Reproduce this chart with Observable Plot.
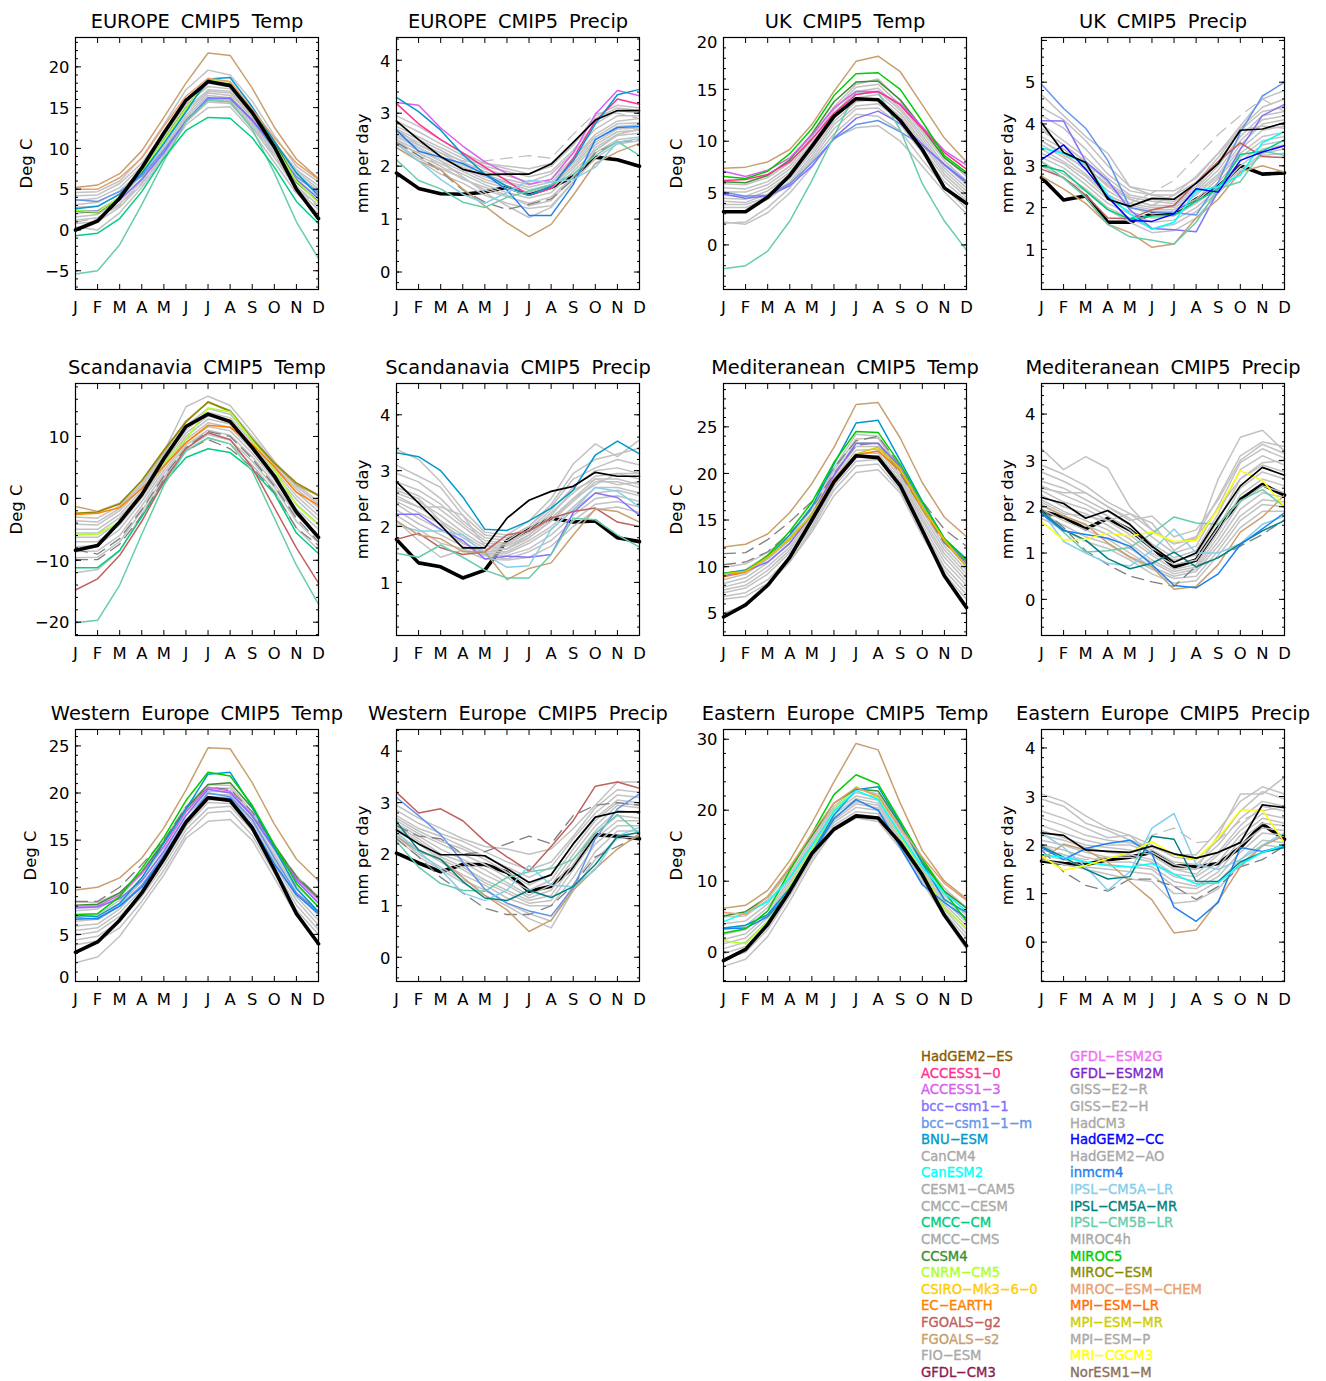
<!DOCTYPE html>
<html><head><meta charset="utf-8">
<style>
body{margin:0;background:#fff}
#page{position:relative;width:1326px;height:1381px;overflow:hidden}
#page svg{position:absolute;overflow:visible;background:none}
.leg{position:absolute;font:13.2px "DejaVu Sans",sans-serif;-webkit-text-stroke:.35px;line-height:16px;white-space:nowrap}
.leg span{display:inline-block;width:10.5px;text-align:center;transform:scaleX(2.2)}
</style>
<script src="https://cdn.jsdelivr.net/npm/d3@7"></script>
<script src="https://cdn.jsdelivr.net/npm/@observablehq/plot@0.6"></script>
</head><body><div id="page"></div>
<script>
const monthLabels=["J","F","M","A","M","J","J","A","S","O","N","D"];
const legendLeft=["HadGEM2-ES","ACCESS1-0","ACCESS1-3","bcc-csm1-1","bcc-csm1-1-m","BNU-ESM","CanCM4","CanESM2","CESM1-CAM5","CMCC-CESM","CMCC-CM","CMCC-CMS","CCSM4","CNRM-CM5","CSIRO-Mk3-6-0","EC-EARTH","FGOALS-g2","FGOALS-s2","FIO-ESM","GFDL-CM3"];
const legendLeftColors=["#8b5a00","#ff3090","#d860f0","#8470ff","#6495ed","#0099cc","#a9a9a9","#00ffff","#a9a9a9","#a9a9a9","#00cd80","#a9a9a9","#3a8f30","#adff2f","#ffcc00","#ff7f00","#c06060","#c8a070","#a9a9a9","#8b1a50"];
const legendRight=["GFDL-ESM2G","GFDL-ESM2M","GISS-E2-R","GISS-E2-H","HadCM3","HadGEM2-CC","HadGEM2-AO","inmcm4","IPSL-CM5A-LR","IPSL-CM5A-MR","IPSL-CM5B-LR","MIROC4h","MIROC5","MIROC-ESM","MIROC-ESM-CHEM","MPI-ESM-LR","MPI-ESM-MR","MPI-ESM-P","MRI-CGCM3","NorESM1-M"];
const legendRightColors=["#ee70ee","#7d26cd","#a9a9a9","#a9a9a9","#a9a9a9","#0000ff","#a9a9a9","#1e80f0","#87ceeb","#008080","#66cdaa","#a9a9a9","#00cd00","#8b8b00","#e8a070","#ff7000","#cdcd00","#a9a9a9","#ffff00","#8b6f5a"];

const europeTempObs=[0,1.1,3.9,7.6,11.9,15.9,18.2,17.7,14.4,10.2,5,1.4];
const europeTempModels=[["bcc-csm1-1-m",[3.7,3.5,4.7,6.6,9.8,13.3,16.1,16.2,13.4,10,6.5,4.6]],["bcc-csm1-1",[2.4,2.3,3.7,6.2,9.5,13.4,16.2,16.1,13.5,10.2,6.2,3.8]],["CCSM4",[2.3,2.1,3.9,7.1,11.1,15,18.1,17.9,14.6,10.9,5.9,3.4]],["CNRM-CM5",[2.4,2.2,4,7.2,11,14.9,18.4,18.1,14.5,10.4,6,3.3]],["BNU-ESM",[2.6,2.9,4.4,6.9,10.6,14.5,18.5,18.7,15.1,10.9,7,4.2]],["IPSL-CM5B-LR",[-5.4,-5,-1.8,3.1,8.4,13.3,15.9,15.7,12.4,7,1,-3.5]],["CMCC-CM",[-.7,-.4,1.4,4.7,8.8,12.2,13.8,13.7,11.3,7.7,3.5,.8]],["MIROC-ESM-CHEM",[5,5,6.4,8.8,12.7,16.4,18.6,18.2,14.8,11.3,8.2,6.2]],["FGOALS-s2",[5.2,5.5,6.9,9.7,13.8,18,21.7,21.4,17.4,12.6,8.7,6.3]]];
const europeTempGrey=[[4.6,4.7,6,8.9,12.9,17.2,19.6,19,15.8,11.6,7.8,5.9],[4.2,4.3,5.7,8.2,11.9,15.9,18,17.6,14.4,10.8,7.4,5.4],[3.6,3.9,5.2,7.8,11.5,15.4,17.6,17.3,14.2,10.6,7.2,5],[3.1,3.4,4.8,7.3,11,14.8,17.2,17,14,10.4,6.9,4.7],[2.8,2.9,4.4,7,10.6,14.5,17,16.8,13.8,10.1,6.6,4.4],[2,2.4,4,6.7,10.2,14.1,16.8,16.5,13.5,9.9,6.2,4],[1.6,1.9,3.6,6.3,9.9,13.8,16.5,16.2,13.2,9.6,5.8,3.5],[1.2,1.5,3.2,6,9.6,13.5,16,15.9,12.9,9.3,5.4,3],[.8,1,2.8,5.6,9.2,13.2,15.7,15.5,12.6,8.9,5,2.5],[.4,0,2.1,5.2,8.9,12.9,15,15.1,12.1,8.3,4.5,2]];
const europeTempDashDark=[];
const europeTempDashLight=[[1,1.4,3,5.7,9.3,13.6,16,15.9,12.6,9.2,5.2,2.8]];

const europePrecipObs=[1.87,1.58,1.48,1.47,1.51,1.6,1.47,1.6,1.8,2.17,2.12,2];
const europePrecipThin=[2.85,2.5,2.18,1.94,1.84,1.85,1.85,2.04,2.45,2.87,3.05,3.05];
const europePrecipModels=[["ACCESS1-3",[3.2,3.15,2.72,2.38,2.08,1.86,1.66,1.75,2.25,2.98,3.43,3.33]],["ACCESS1-0",[3.18,2.8,2.5,2.25,1.98,1.72,1.45,1.58,2.15,2.85,3.27,3.17]],["BNU-ESM",[3.3,3.03,2.68,2.22,1.85,1.62,1.45,1.62,2.1,2.8,3.35,3.45]],["inmcm4",[2.68,2.28,2.17,2.05,1.85,1.55,1.07,1.07,1.65,2.5,2.73,2.75]],["FGOALS-s2",[2.35,2.1,1.93,1.57,1.25,.93,.67,.9,1.45,2.05,2.27,2.43]],["IPSL-CM5B-LR",[2.12,1.73,1.57,1.32,1.22,1.41,1.53,1.65,1.85,2.2,2.47,2.2]],["IPSL-CM5A-LR",[2.42,2.1,1.75,1.47,1.3,1.5,1.73,1.7,1.75,1.98,2.45,2.52]]];
const europePrecipGrey=[[2.95,2.75,2.5,2.25,2.05,1.95,1.85,2,2.4,2.95,3.15,3.1],[2.85,2.65,2.42,2.2,2,1.9,1.8,1.9,2.3,2.8,3.05,3],[2.75,2.55,2.35,2.15,1.95,1.82,1.7,1.85,2.25,2.7,2.95,2.95],[2.7,2.5,2.3,2.08,1.9,1.75,1.65,1.75,2.15,2.6,2.85,2.9],[2.65,2.45,2.25,2.02,1.85,1.7,1.6,1.7,2.1,2.55,2.8,2.82],[2.6,2.4,2.2,1.98,1.8,1.68,1.55,1.65,2.05,2.5,2.75,2.78],[2.55,2.35,2.15,1.95,1.75,1.62,1.5,1.62,2,2.45,2.7,2.72],[2.5,2.3,2.1,1.9,1.7,1.58,1.45,1.58,1.95,2.4,2.65,2.68],[2.45,2.25,2.05,1.85,1.65,1.5,1.4,1.5,1.9,2.3,2.58,2.62],[2.42,2.15,1.95,1.78,1.55,1.42,1.3,1.42,1.8,2.25,2.5,2.55],[2.35,2.1,1.85,1.68,1.45,1.3,1.2,1.25,1.7,2.15,2.42,2.48],[2.6,2.35,2.1,1.8,1.5,1.25,1.03,1.22,1.7,2.3,2.6,2.7],[2.7,2.4,2.25,2.1,2.05,2,1.95,2.05,2.4,2.9,3.1,3.05],[2.5,2.2,2,1.75,1.6,1.45,1.25,1.35,1.8,2.35,2.6,2.7]];
const europePrecipDashDark=[[2.45,2.2,1.9,1.55,1.32,1.18,1.28,1.38,1.75,2.25,2.45,2.5]];
const europePrecipDashLight=[[2.4,2.25,2,1.85,2.1,2.15,2.2,2.15,2.6,3,3,2.9]];

const ukTempObs=[3.2,3.2,4.6,6.7,9.5,12.4,14.1,14,12,9.2,5.5,4];
const ukTempModels=[["bcc-csm1-1-m",[5.1,4.7,4.8,5.9,7.9,10.2,11.6,12,10.9,9.6,7.8,6.1]],["bcc-csm1-1",[4.9,4.5,4.7,5.7,7.6,10.3,12.2,12.9,11.7,9.7,7.7,6]],["IPSL-CM5B-LR",[-2.3,-2,-.6,2.3,6.2,10.5,14.8,14.7,11.1,5.9,2.3,-.5]],["CCSM4",[6.1,6,6.7,8.2,10.7,13.8,15.7,15.8,14,11.3,8.4,6.8]],["ACCESS1-3",[7.1,6.6,7.2,8.4,10.6,13.2,14.8,14.8,13.6,11.4,9.1,7.7]],["ACCESS1-0",[6.2,6.3,6.8,8,10.2,12.7,14.5,14.8,13.5,11.2,8.9,7.3]],["MIROC5",[6.6,6.4,7.1,8.8,11.2,14.4,16.5,16.6,15,11.9,8.6,7]],["FGOALS-s2",[7.4,7.5,8,9.2,11.6,14.8,17.7,18.2,16.7,13.5,10.3,8]]];
const ukTempGrey=[[5.9,5.8,6.5,7.9,10.4,13.3,15.5,16,13.9,11.1,8.4,6.6],[5.5,5.4,6.1,7.6,10.1,13,15.2,15.5,13.5,10.9,8.1,6.2],[5.1,5.1,5.8,7.3,9.8,12.7,14.8,15.1,13.2,10.6,7.7,5.8],[4.8,4.7,5.5,7,9.5,12.5,14.5,14.8,13,10.3,7.4,5.5],[4.5,4.4,5.2,6.7,9.2,12.2,14.2,14.5,12.7,10,7.1,5.2],[4.2,4.1,4.9,6.4,8.9,11.9,13.8,14.1,12.4,9.7,6.8,4.9],[3.9,3.9,4.6,6.1,8.6,11.6,13.4,13.6,12,9.3,6.5,4.6],[3.6,3.6,4.4,5.9,8.3,11.2,13.1,13.2,11.6,8.9,6.1,4.3],[2.2,2,3.1,5,7.5,10.3,11.3,11.5,10,7.6,5.1,3],[2.1,2.2,3.6,5.5,8.1,10.7,12.6,12.4,11,8.2,5.6,3.5]];
const ukTempDashDark=[];
const ukTempDashLight=[];

const ukPrecipObs=[2.72,2.18,2.28,1.65,1.65,1.85,1.85,2.2,2.5,3,2.8,2.83];
const ukPrecipThin=[4.03,3.32,3.08,2.2,2.03,2.22,2.2,2.58,3.05,3.85,3.88,4.03];
const ukPrecipModels=[["bcc-csm1-1-m",[4.95,4.37,3.9,3.13,2,1.9,1.88,1.82,2.6,3.8,4.67,5]],["bcc-csm1-1",[4.08,4.07,3.1,2.65,1.95,1.5,1.47,1.42,2.4,3.4,4.2,4.47]],["FGOALS-g2",[2.92,2.72,2.3,1.75,1.73,1.95,2.05,2.6,3.1,3.55,3.22,3.2]],["FGOALS-s2",[2.75,2.45,2.1,1.6,1.4,1.05,1.13,1.75,2.2,2.85,3,2.85]],["IPSL-CM5B-LR",[3.1,2.7,2.25,1.6,1.3,1.22,1.13,1.65,2.45,2.62,3.35,3.25]],["CMCC-CM",[3,2.87,2.4,1.95,1.72,1.8,1.82,2.15,2.45,3.27,3.35,3.62]],["CanESM2",[3.42,3.3,3.05,2.3,1.85,1.48,1.65,2.4,2.5,2.78,3.55,3.82]],["HadGEM2-CC",[3.15,3.5,2.92,2.25,1.7,1.67,1.85,2.45,2.37,3.13,3.33,3.48]]];
const ukPrecipGrey=[[4.7,4.2,3.7,3.3,2.5,2.4,2.4,2.7,3.3,3.95,4.6,4.8],[4.4,4.1,3.6,3,2.5,2.3,2.3,2.6,3.2,3.9,4.4,4.6],[4.2,3.9,3.4,2.8,2.4,2.3,2.2,2.5,3.1,3.85,4.3,4.4],[4,3.6,3.2,2.7,2.3,2.2,2.15,2.45,3,3.7,4.2,4.3],[3.85,3.5,3.1,2.6,2.25,2.15,2.1,2.4,2.9,3.6,4.1,4.2],[3.7,3.4,3,2.5,2.2,2.05,2.05,2.35,2.8,3.5,4,4.1],[3.6,3.3,2.9,2.4,2.1,2,2,2.3,2.75,3.4,3.85,3.95],[3.5,3.2,2.8,2.3,2.05,1.95,1.95,2.2,2.7,3.3,3.7,3.8],[3.4,3.1,2.75,2.25,2,1.85,1.9,2.15,2.6,3.2,3.6,3.7],[3.3,3.05,2.65,2.2,1.9,1.75,1.8,2.1,2.5,3.1,3.5,3.6],[3.2,2.95,2.55,2.1,1.85,1.65,1.7,2,2.45,3,3.4,3.5],[3.1,2.8,2.45,2,1.75,1.5,1.6,1.9,2.4,2.9,3.3,3.4],[3,2.7,2.4,1.95,1.65,1.4,1.45,1.75,2.35,2.85,3.25,3.3],[3.6,3.25,2.95,2.55,2.2,2.05,2.3,2.75,3.3,3.85,3.95,3.9]];
const ukPrecipDashDark=[];
const ukPrecipDashLight=[[3.9,3.5,3.1,2.5,2.1,2.35,2.65,3.2,3.75,4.2,4.6,4.3]];

const scandTempObs=[-8.4,-7.6,-3.8,.6,6.4,11.6,13.6,12.4,8.2,3.6,-2.2,-6.3];
const scandTempModels=[["FGOALS-s2",[-1.3,-2.1,-.8,2.8,7.5,12.5,15.5,14,9.5,5.6,2.2,.4]],["MIROC-ESM",[-2.4,-2.2,-.9,2.9,7.8,12.3,15.6,14.1,9.6,5.7,2.5,.5]],["CNRM-CM5",[-5.9,-5.8,-3.8,.5,5.8,9.5,14.6,14,9.3,4.7,-1.1,-4.3]],["EC-EARTH",[-2.6,-2.4,-1.5,1.6,5.2,9,11.8,11.5,8.7,5.1,1,-1.1]],["CMCC-CM",[-11.2,-11.2,-8.4,-3,2.5,6.6,8,7.4,4.6,.8,-5.6,-8.9]],["FGOALS-g2",[-14.8,-13,-9.2,-3.7,2.7,8,10.6,9.5,5,-1.5,-8,-13.7]],["IPSL-CM5B-LR",[-20.1,-19.7,-14,-5.8,2.1,7.7,9.8,8.8,4.4,-3.2,-10.8,-17.1]]];
const scandTempGrey=[[-3,-3.2,-1.2,2.4,7.5,14.8,16.5,15,10.7,6,2.2,-.5],[-3.6,-3.8,-1.6,2.1,7.2,12.5,15.5,14.2,10,5.7,1.9,-.9],[-4.2,-4.3,-2,1.8,6.8,11.7,14.5,13.6,9.5,5.3,1.5,-1.5],[-5,-5,-2.6,1.3,6.4,11,13.9,13,9.1,4.9,1,-2.1],[-5.6,-5.6,-3.1,.9,5.9,10.5,13.3,12.5,8.7,4.5,.4,-2.8],[-6.3,-6.3,-3.7,.5,5.4,10,12.8,12,8.3,4,-.2,-3.5],[-7,-7,-4.3,.1,5,9.5,12.2,11.5,7.8,3.5,-.9,-4.2],[-7.8,-7.6,-5,-.5,4.5,9,11.6,10.9,7.3,3,-1.7,-5],[-8.6,-8.5,-6,-1.2,4,8.6,11,10.2,6.7,2.4,-2.7,-6],[-9.6,-9.5,-7,-2,3.4,8.1,10.3,9.4,6,1.8,-3.7,-7.2],[-12,-11.5,-8.5,-2.6,3,7.6,9.7,8.8,5.4,1.2,-4.8,-8.3]];
const scandTempDashDark=[[-9.9,-9.9,-7.4,-2.8,3,7.7,9.5,8,5,1,-4.8,-7.6],[-8.3,-9,-6.5,-1.8,3.6,8.2,10.8,10,6.4,2,-3.2,-7]];
const scandTempDashLight=[];

const scandPrecipObs=[1.77,1.35,1.28,1.08,1.22,1.75,1.95,2.15,2.08,2.1,1.8,1.73];
const scandPrecipThin=[2.8,2.42,2.02,1.62,1.62,2.15,2.47,2.63,2.72,2.97,2.9,2.9];
const scandPrecipModels=[["BNU-ESM",[3.32,3.25,3,2.53,1.95,1.93,2.1,2.33,2.65,3.28,3.53,3.3]],["bcc-csm1-1",[2.22,2.22,1.95,1.75,1.42,1.47,1.45,1.5,2.25,2.6,2.52,2.2]],["IPSL-CM5A-LR",[2.03,1.92,1.92,1.85,1.5,1.27,1.3,1.95,2.3,2.7,2.63,2.35]],["FGOALS-g2",[1.77,1.88,1.62,1.5,1.55,1.85,1.92,2.15,2.27,2.33,2.08,2]],["FGOALS-s2",[2.1,1.85,1.78,1.55,1.55,1.05,1.25,1.35,1.85,2.32,2.27,2.08]],["IPSL-CM5B-LR",[1.52,1.45,1.67,1.45,1.22,1.08,1.08,1.5,2.15,2.12,1.85,1.63]]];
const scandPrecipGrey=[[3.38,3.2,2.8,2.3,1.9,1.85,2.1,2.5,3.12,3.48,3.25,3.55],[3.1,2.9,2.7,2.2,1.85,1.8,2,2.4,2.95,3.2,3.3,3.4],[2.95,2.8,2.5,2.1,1.8,1.75,2,2.35,2.85,3.05,3.2,3.1],[2.8,2.65,2.4,2.05,1.75,1.7,1.95,2.3,2.7,3,3.05,2.95],[2.7,2.55,2.3,2,1.7,1.68,1.9,2.25,2.6,2.9,2.95,2.85],[2.6,2.45,2.2,1.9,1.65,1.65,1.85,2.15,2.5,2.85,2.85,2.75],[2.5,2.35,2.1,1.85,1.6,1.6,1.8,2.1,2.45,2.8,2.8,2.7],[2.45,2.25,2.05,1.8,1.55,1.55,1.75,2,2.35,2.7,2.7,2.6],[2.4,2.15,1.95,1.7,1.52,1.52,1.7,1.95,2.3,2.6,2.65,2.55],[2.3,2.05,1.85,1.65,1.5,1.48,1.6,1.85,2.2,2.5,2.55,2.45],[2.2,1.95,1.7,1.6,1.48,1.42,1.55,1.75,2.1,2.4,2.45,2.35],[2.1,1.75,1.45,1.58,1.42,1.4,1.45,1.65,2,2.3,2.35,2.25],[2.55,2.35,2.35,2.2,1.65,1.6,1.85,2.2,2.65,2.85,2.75,2.8],[2.65,2.5,2.1,1.7,1.55,1.6,1.8,2.1,2.5,2.75,2.95,2.95]];
const scandPrecipDashDark=[];
const scandPrecipDashLight=[];

const medTempObs=[4.6,5.9,8,11,15,19.1,21.9,21.7,18.7,13.9,9,5.6];
const medTempModels=[["BNU-ESM",[9.3,9.6,11,13.4,16.4,21,25.4,25.7,21.4,17,13,10.8]],["MIROC5",[9.3,9.5,11.2,13.8,16.9,21.2,24.5,24.4,21,16.9,13,10.6]],["bcc-csm1-1",[9,9.5,10.5,12.5,15.6,19.8,23.2,23.2,20.7,16.5,12.8,10.3]],["EC-EARTH",[8.9,9.4,11,13,15.5,19.4,22,22.4,20.3,16.2,12.8,10]],["MPI-ESM-MR",[9.2,9.5,11,13,15.6,19.2,22.1,22.8,20.5,16.4,12.9,10]],["FGOALS-s2",[12.1,12.4,13.5,15.8,18.9,22.8,27.4,27.6,23.8,19,15.3,13.2]]];
const medTempGrey=[[9.9,10.3,11.5,13.4,16.5,20.6,24.2,24,20.5,16.8,13,10.5],[9.2,9.7,11.2,13.1,16.2,20.3,23.7,23.8,20.3,16.4,12.6,10],[8.6,9.2,10.8,12.8,15.8,19.9,23.3,23.3,20.1,16,12.2,9.6],[8.2,8.8,10.4,12.5,15.6,19.7,22.9,22.9,19.8,15.6,11.8,9.2],[7.8,8.4,10,12.1,15.3,19.4,22.5,22.6,19.5,15.2,11.4,8.8],[7.5,8,9.6,11.8,15,19.2,22.1,22.2,19.2,14.9,11,8.4],[7.2,7.7,9.2,11.5,14.7,18.9,21.7,21.9,18.9,14.5,10.5,8],[6.8,7.2,8.6,11,14.3,18.6,21.3,21.5,18.5,14.1,10,7.5],[6.5,6.8,8.2,10.6,14,18.2,20.8,21,18.2,13.7,9.6,7],[5,5.9,8,10.5,13.7,17.6,20.1,20.4,17.9,13.3,9.2,6.5]];
const medTempDashDark=[[11.4,11.5,12.9,14.8,17,20.6,23.5,24,20.8,17,14,12.2],[10.2,10.5,11.6,13.6,16.2,20,23,23.3,20,16.2,12.5,10.5]];
const medTempDashLight=[];

const medPrecipObs=[1.9,1.78,1.52,1.75,1.5,1.12,.7,.85,1.55,2.15,2.48,2.25];
const medPrecipThin=[2.2,2.07,1.75,1.92,1.62,1.15,.8,1,1.75,2.45,2.85,2.68];
const medPrecipModels=[["FGOALS-s2",[2.03,1.8,1.62,1.22,.92,.7,.22,.28,.75,1.45,1.78,2.25]],["IPSL-CM5B-LR",[1.88,1.45,1.02,1.05,1.12,1.42,1.78,1.65,1.62,2.13,2.37,2]],["IPSL-CM5A-LR",[1.9,1.25,1,.78,.72,1.05,1.52,1,1,1.2,1.62,1.8]],["IPSL-CM5A-MR",[1.9,1.5,1.28,.88,.66,.78,1.02,.7,.9,1.2,1.48,1.7]],["inmcm4",[1.85,1.48,1.4,1.32,1.15,.75,.3,.25,.55,1.18,1.52,1.87]],["MRI-CGCM3",[1.68,1.28,1.3,1.43,1.37,1.45,1.25,1.27,1.95,2.78,2.57,2]]];
const medPrecipGrey=[[3.25,2.8,3.08,2.83,2,1.5,1.2,1.3,2.6,3.5,3.65,3.2],[2.9,2.7,2.45,2.1,1.85,1.5,1.2,1.35,2.2,3.1,3.4,3.3],[2.75,2.55,2.3,2,1.75,1.35,1,1.15,2,2.95,3.25,3.05],[2.55,2.4,2.15,1.9,1.6,1.2,.9,1.05,1.85,2.8,3.1,2.9],[2.45,2.25,2.05,1.8,1.5,1.1,.85,.95,1.7,2.6,2.9,2.75],[2.35,2.1,1.95,1.7,1.4,1,.75,.85,1.55,2.4,2.75,2.6],[2.25,2,1.85,1.6,1.3,.95,.65,.75,1.45,2.25,2.6,2.45],[2.15,1.9,1.7,1.5,1.2,.85,.6,.7,1.35,2.1,2.45,2.3],[2.05,1.8,1.6,1.4,1.1,.8,.55,.65,1.25,1.95,2.3,2.2],[1.95,1.7,1.5,1.3,1,.7,.5,.6,1.15,1.8,2.15,2.1],[1.85,1.6,1.35,1.2,.9,.65,.45,.5,1.05,1.7,2.05,2],[1.75,1.5,1.25,1.1,.85,.55,.35,.4,.95,1.55,1.9,1.9],[2.4,2.3,2.3,2,1.7,1.8,1.35,1.5,2.15,3,3.35,3.15],[2.1,1.85,1.8,1.7,1.85,1.65,1.05,1.35,1.95,2.6,2.95,3]];
const medPrecipDashDark=[[1.95,1.55,1.05,.75,.5,.38,.28,.72,.9,1.15,1.4,1.72]];
const medPrecipDashLight=[];

const westTempObs=[3.1,4.2,6.5,9.4,13,16.9,19.5,19.2,16.3,11.9,7.2,4];
const westTempModels=[["CCSM4",[8.1,8.2,9.4,11.6,14.8,18.3,20.9,21.1,18.4,14.5,11,8.9]],["ACCESS1-3",[8,8,9.2,11.5,14.3,18,20.6,20.2,17.6,14.1,10.9,8.7]],["bcc-csm1-1",[7.8,7.9,8.8,10.7,13.8,17.6,20.4,20,17.6,14.1,10.7,8.3]],["bcc-csm1-1-m",[6.8,6.6,8,10.2,13.4,17,20,19.6,17.2,13.1,9.4,7.4]],["BNU-ESM",[7,6.9,8.3,11,14.7,18.3,22,22.2,18.5,14.2,9.9,7.4]],["inmcm4",[6.6,6.7,8,10,13.2,17,19.6,19.4,16.5,12.5,9.2,7.2]],["MIROC5",[7.1,7.2,9,12,15.3,19.2,22.2,21.8,18.7,14.5,10.4,7.9]],["FGOALS-s2",[9.7,10,11,13.1,16.3,20.3,24.8,24.7,21.1,16.7,13,10.7]]];
const westTempGrey=[[8.4,8.4,9.4,11.7,15,18.6,20.9,20.8,18,14.5,11.2,9],[7.5,7.7,9,11.4,14.7,18.3,20.5,20.5,17.8,14.3,10.7,8.4],[6.9,7.1,8.6,11,14.3,18,20.2,20.1,17.5,13.9,10.2,7.9],[6.4,6.6,8.2,10.6,13.9,17.6,19.9,19.8,17.2,13.5,9.8,7.4],[5.9,6.1,7.7,10.2,13.5,17.2,19.6,19.5,16.9,13.2,9.4,7],[5.4,5.7,7.3,9.8,13.1,16.9,19.3,19.2,16.6,12.8,9,6.5],[4.9,5.3,6.9,9.4,12.7,16.5,19,18.9,16.3,12.4,8.6,6],[4.4,4.8,6.4,9,12.3,16.1,18.4,18.6,16,12,8.1,5.5],[3.9,4.3,5.7,8.5,11.8,15.6,17.9,18.1,15.5,11.5,7.6,5],[2,2.6,4.8,8,11.3,15.2,17,17.2,15,11,7,4.2]];
const westTempDashDark=[[8.5,8.5,10,12.4,15,18.5,20.6,20.4,18,14.4,11.2,9]];
const westTempDashLight=[];

const westPrecipObs=[2.02,1.83,1.66,1.8,1.8,1.65,1.28,1.38,1.75,2.38,2.35,2.3];
const westPrecipThin=[2.47,2.2,1.99,1.99,1.97,1.72,1.45,1.6,2.2,2.72,2.82,2.82];
const westPrecipModels=[["FGOALS-g2",[3.2,2.8,2.88,2.65,2.25,1.95,1.67,2.15,2.65,3.32,3.4,3.28]],["bcc-csm1-1-m",[3.1,2.75,2.38,1.85,1.32,1.05,.9,.8,1.35,2.3,2.88,3.17]],["FGOALS-s2",[2.35,2.05,1.9,1.55,1.2,.92,.5,.72,1.3,1.72,2.1,2.4]],["IPSL-CM5B-LR",[2.25,1.75,1.43,1.3,1.28,1.55,1.66,1.72,1.9,2.4,2.77,2.4]],["IPSL-CM5A-LR",[2.42,2.05,1.7,1.25,1.1,1.3,1.78,1.4,1.37,1.7,2.35,2.52]],["IPSL-CM5A-MR",[2.63,2.08,1.9,1.47,1.15,1.1,1.3,1.16,1.37,1.8,2.35,2.42]]];
const westPrecipGrey=[[2.95,2.7,2.5,2.3,2.15,2.1,2,2.1,2.5,2.95,3.4,3.4],[2.85,2.6,2.4,2.25,2.05,1.85,1.7,1.85,2.35,2.9,3.25,3.2],[2.75,2.5,2.35,2.15,1.95,1.75,1.55,1.75,2.3,2.8,3.15,3.1],[2.7,2.45,2.25,2.1,1.9,1.65,1.4,1.6,2.2,2.7,3.05,3],[2.65,2.4,2.2,2,1.8,1.55,1.3,1.5,2.1,2.65,3,2.95],[2.6,2.35,2.1,1.9,1.7,1.45,1.2,1.4,2,2.55,2.95,2.9],[2.55,2.3,2,1.85,1.6,1.4,1.15,1.3,1.9,2.45,2.85,2.8],[2.5,2.25,1.95,1.75,1.5,1.3,1.1,1.2,1.8,2.4,2.75,2.7],[2.45,2.2,1.9,1.7,1.45,1.25,1.05,1.1,1.7,2.3,2.65,2.65],[2.4,2.1,1.85,1.6,1.4,1.15,1,1,1.55,2.2,2.55,2.55],[2.35,2,1.75,1.5,1.3,1.05,.85,.7,1.4,2.05,2.45,2.45],[2.3,1.95,1.7,1.45,1.2,1,.75,.57,1.3,1.9,2.3,2.35]];
const westPrecipDashDark=[[2.3,1.95,1.55,1.25,.95,.83,.83,1,1.4,1.95,2.15,2.35],[2.55,2.35,2.3,2,2.05,2.2,2.35,2.2,2.75,2.95,3,2.95]];
const westPrecipDashLight=[];

const eastTempObs=[-1.2,.4,3.9,8.6,13.9,17.3,19.2,18.9,15.4,10.9,5.2,.9];
const eastTempModels=[["CNRM-CM5",[1.6,1.2,4.4,9.3,14.5,20,23.3,21.8,16.3,11.2,6.2,3.3]],["inmcm4",[3.3,3.4,5,8.5,13.8,18.8,21.5,20,14.8,9.5,7,4.8]],["CCSM4",[5.1,5.7,7.8,11.9,16.4,21,23,22.7,18,12.7,8.6,6.2]],["BNU-ESM",[3.4,3.8,5.3,9,14,19.3,22.9,23.3,18.2,12.5,7.4,5.6]],["MIROC5",[2.7,3.3,5.8,11.5,16.7,22.2,25,23.7,18.5,13.2,8.5,4.4]],["CanESM2",[4.3,5.5,7.1,10.5,15,19.8,22.8,21.5,16.6,12,8.3,5.8]],["MIROC-ESM-CHEM",[5.6,5.3,7.8,12,16.7,21,23.2,22,17.5,13.4,9.7,7.3]],["FGOALS-s2",[6.2,6.6,8.7,12.9,18.2,24,29.4,28.5,21,14.3,10,7.5]]];
const eastTempGrey=[[5,5.1,7.4,11.5,16.2,20.5,23,22.3,17.6,13,9,6.3],[4,4.4,6.8,11,15.8,20.2,22.5,21.8,17.2,12.5,8.5,5.7],[3.2,3.7,6.3,10.6,15.4,19.8,22,21.4,16.8,12.1,8,5.2],[2.5,3.2,5.8,10.2,15,19.4,21.6,21,16.5,11.8,7.6,4.7],[1.8,2.6,5.3,9.8,14.6,19,21.2,20.7,16.2,11.5,7.2,4.2],[1.2,2,4.9,9.4,14.3,18.6,20.9,20.3,15.9,11.2,6.8,3.7],[.5,1.4,4.4,9,14,18.3,20.4,20,15.6,10.9,6.4,3.2],[-.2,.8,3.8,8.5,13.6,17.9,19.8,19.5,15.3,10.5,6,2.6],[-.9,0,3.2,7.9,13.2,17.6,19.4,19,15,10.2,5.6,2],[-2,-1,2.2,7.2,12.7,17.2,18.9,18.4,14.6,9.8,5,.4]];
const eastTempDashDark=[];
const eastTempDashLight=[];

const eastPrecipObs=[1.67,1.62,1.6,1.7,1.75,1.85,1.58,1.55,1.62,1.95,2.43,2.12];
const eastPrecipThin=[2.25,2.2,1.9,1.87,1.85,1.98,1.82,1.73,1.85,2.05,2.83,2.77];
const eastPrecipModels=[["FGOALS-s2",[1.7,2.02,1.9,1.65,1.25,.87,.19,.25,.85,1.55,1.98,2.2]],["IPSL-CM5A-LR",[2.25,1.95,1.55,1.07,1.45,2.35,2.65,1.6,1.5,1.7,2,2.25]],["IPSL-CM5A-MR",[1.97,1.75,1.5,1.3,1.35,2.18,2.12,1.25,1.25,1.65,1.85,1.95]],["inmcm4",[1.95,1.7,1.93,2.03,2.1,1.82,.72,.43,.82,1.95,1.87,1.98]],["CanESM2",[1.8,1.75,1.65,1.58,1.55,1.62,1.4,1.2,1.22,1.6,1.85,2]],["MRI-CGCM3",[1.77,1.48,1.58,1.72,1.85,2.07,1.8,1.7,2.15,2.72,2.72,2.05]]];
const eastPrecipGrey=[[3.05,2.9,2.6,2.35,2.2,1.8,1.5,1.5,2.2,3.05,3.05,3.4],[2.95,2.8,2.45,2.3,2.1,1.95,1.8,1.8,2.3,2.9,3.2,3.05],[2.7,2.55,2.35,2.15,2.2,2,1.75,1.7,2.1,2.7,3.1,2.95],[2.55,2.4,2.2,2.1,2.05,1.9,1.65,1.6,2,2.55,2.9,2.8],[2.4,2.25,2.1,2,2,1.85,1.6,1.5,1.85,2.4,2.8,2.7],[2.3,2.15,2,1.95,1.9,1.8,1.5,1.4,1.8,2.3,2.65,2.55],[2.2,2.1,1.95,1.85,1.8,1.7,1.4,1.35,1.65,2.2,2.55,2.45],[2.1,2,1.85,1.75,1.75,1.65,1.35,1.25,1.55,2.1,2.45,2.4],[2,1.9,1.75,1.65,1.65,1.55,1.25,1.15,1.45,2,2.35,2.3],[1.9,1.8,1.65,1.6,1.55,1.5,1.15,1.1,1.35,1.85,2.25,2.2],[1.8,1.7,1.55,1.5,1.45,1.4,1,1,1.25,1.7,2.1,2.05],[1.7,1.6,1.5,1.4,1.3,1.25,.8,.85,1.1,1.6,2,1.95]];
const eastPrecipDashDark=[[1.9,1.45,1.17,1.05,1.3,1.3,1.15,.88,1.15,1.55,1.7,1.98]];
const eastPrecipDashLight=[[2,1.8,1.7,1.75,1.8,2.2,2.35,2.05,2.1,2.5,2.7,2.8]];

const modelColor=new Map([...d3.zip(legendLeft,legendLeftColors),...d3.zip(legendRight,legendRightColors)]);
const T="Deg C",P="mm per day";
const panels=[
 {title:"EUROPE CMIP5 Temp",unit:T,left:75,top:37,dom:[-7.3,23.6],step:5,labelX:20,obs:europeTempObs,models:europeTempModels,grey:europeTempGrey,dashDark:europeTempDashDark,dashLight:europeTempDashLight},
 {title:"EUROPE CMIP5 Precip",unit:P,left:396,top:37,dom:[-.33,4.43],step:1,labelX:356,obs:europePrecipObs,thin:europePrecipThin,models:europePrecipModels,grey:europePrecipGrey,dashDark:europePrecipDashDark,dashLight:europePrecipDashLight},
 {title:"UK CMIP5 Temp",unit:T,left:723,top:37,dom:[-4.3,20],step:5,labelX:670,obs:ukTempObs,models:ukTempModels,grey:ukTempGrey,dashDark:ukTempDashDark,dashLight:ukTempDashLight},
 {title:"UK CMIP5 Precip",unit:P,left:1041,top:37,dom:[.04,6.07],step:1,labelX:1001,noLabel:[6],obs:ukPrecipObs,thin:ukPrecipThin,models:ukPrecipModels,grey:ukPrecipGrey,dashDark:ukPrecipDashDark,dashLight:ukPrecipDashLight},
 {title:"Scandanavia CMIP5 Temp",unit:T,left:75,top:383,dom:[-22.15,18.55],step:10,labelX:10,obs:scandTempObs,models:scandTempModels,grey:scandTempGrey,dashDark:scandTempDashDark,dashLight:scandTempDashLight},
 {title:"Scandanavia CMIP5 Precip",unit:P,left:396,top:383,dom:[.05,4.56],step:1,labelX:356,obs:scandPrecipObs,thin:scandPrecipThin,models:scandPrecipModels,grey:scandPrecipGrey,dashDark:scandPrecipDashDark,dashLight:scandPrecipDashLight},
 {title:"Mediteranean CMIP5 Temp",unit:T,left:723,top:383,dom:[2.61,29.65],step:5,labelX:670,obs:medTempObs,models:medTempModels,grey:medTempGrey,dashDark:medTempDashDark,dashLight:medTempDashLight},
 {title:"Mediteranean CMIP5 Precip",unit:P,left:1041,top:383,dom:[-.78,4.66],step:1,labelX:1001,obs:medPrecipObs,thin:medPrecipThin,models:medPrecipModels,grey:medPrecipGrey,dashDark:medPrecipDashDark,dashLight:medPrecipDashLight},
 {title:"Western Europe CMIP5 Temp",unit:T,left:75,top:729,dom:[0,26.74],step:5,labelX:24,obs:westTempObs,models:westTempModels,grey:westTempGrey,dashDark:westTempDashDark,dashLight:westTempDashLight},
 {title:"Western Europe CMIP5 Precip",unit:P,left:396,top:729,dom:[-.47,4.42],step:1,labelX:356,obs:westPrecipObs,thin:westPrecipThin,models:westPrecipModels,grey:westPrecipGrey,dashDark:westPrecipDashDark,dashLight:westPrecipDashLight},
 {title:"Eastern Europe CMIP5 Temp",unit:T,left:723,top:729,dom:[-4.13,31.37],step:10,labelX:670,obs:eastTempObs,models:eastTempModels,grey:eastTempGrey,dashDark:eastTempDashDark,dashLight:eastTempDashLight},
 {title:"Eastern Europe CMIP5 Precip",unit:P,left:1041,top:729,dom:[-.81,4.38],step:1,labelX:1001,obs:eastPrecipObs,thin:eastPrecipThin,models:eastPrecipModels,grey:eastPrecipGrey,dashDark:eastPrecipDashDark,dashLight:eastPrecipDashLight}
];
const ML=80,MR=45,MT=37,MB=40,FW=243,FH=252;
const page=document.getElementById("page");
const months=d3.range(12);
const mx=(d,i)=>i,my=d=>d;
const multiples=([a,b],s)=>d3.range(Math.ceil(a/s-1e-9),Math.floor(b/s+1e-9)+1).map(k=>k*s);
const ln=(v,o)=>Plot.line(v,{x:mx,y:my,...o});
function draw(p){
 const major=multiples(p.dom,p.step), minor=multiples(p.dom,p.step/5);
 const obsMark=ln(p.obs,{stroke:"#000",strokeWidth:3.6});
 const isPrecip=!!p.thin;
 const shown=major.filter(v=>!(p.noLabel||[]).includes(v));
 const nearTop=v=>v===p.dom[1], nearBottom=v=>v===p.dom[0];
 const labelOpts={anchor:"left",tickSize:0,tickPadding:6,tickFormat:"d",label:null};
 const svg=Plot.plot({
  width:FW+ML+MR,height:FH+MT+MB,marginLeft:ML,marginRight:MR,marginTop:MT,marginBottom:MB,
  x:{domain:[0,11]},y:{domain:p.dom},
  style:{fontFamily:'"DejaVu Sans",sans-serif',fontSize:"16.4px",color:"#000",background:"none",overflow:"visible"},
  marks:[
   isPrecip?obsMark:null,
   ...p.grey.map(v=>ln(v,{stroke:"#c2c2c2",strokeWidth:1.5})),
   ...p.dashLight.map(v=>ln(v,{stroke:"#bebebe",strokeWidth:1.2,strokeDasharray:"12,7"})),
   ...p.dashDark.map(v=>ln(v,{stroke:"#7f7f7f",strokeWidth:1.3,strokeDasharray:"12,7"})),
   ...p.models.map(([n,v])=>ln(v,{stroke:modelColor.get(n),strokeWidth:1.5})),
   isPrecip?ln(p.thin,{stroke:"#000",strokeWidth:1.7}):obsMark,
   Plot.frame({stroke:"#000",strokeWidth:1.2}),
   Plot.axisX(months,{anchor:"bottom",tickSize:-5,fill:"none",label:null}),
   Plot.axisX(months,{anchor:"top",tickSize:-5,fill:"none",label:null}),
   Plot.axisX(months,{anchor:"bottom",tickSize:0,tickPadding:12,tickFormat:i=>monthLabels[i],label:null}),
   Plot.axisY(major,{anchor:"left",tickSize:-6,fill:"none",label:null}),
   Plot.axisY(major,{anchor:"right",tickSize:-6,fill:"none",label:null}),
   Plot.axisY(minor,{anchor:"left",tickSize:-3,fill:"none",label:null}),
   Plot.axisY(minor,{anchor:"right",tickSize:-3,fill:"none",label:null}),
   Plot.axisY(shown.filter(v=>!nearTop(v)&&!nearBottom(v)),{...labelOpts,dy:1,label:p.unit,labelAnchor:"center",labelArrow:"none",labelOffset:p.left-p.labelX}),
   Plot.axisY(shown.filter(nearTop),{...labelOpts,dy:5}),
   Plot.axisY(shown.filter(nearBottom),{...labelOpts,dy:-4}),
   Plot.text([p.title],{text:d=>d,frameAnchor:"top",dy:-10,lineAnchor:"bottom",fontSize:19.4})
  ]
 });
 svg.style.left=(p.left-ML)+"px";
 svg.style.top=(p.top-MT)+"px";
 for(const t of svg.querySelectorAll("text")) if(t.textContent===p.title) t.style.wordSpacing="4.8px";
 page.appendChild(svg);
}
panels.forEach(draw);
[[legendLeft,921],[legendRight,1070]].forEach(([names,x])=>names.forEach((n,i)=>{
 const d=document.createElement("div");
 d.className="leg";d.style.color=modelColor.get(n);
 n.split("-").forEach((part,k)=>{
  if(k){const s=document.createElement("span");s.textContent="-";d.appendChild(s);}
  d.appendChild(document.createTextNode(part));
 });
 d.style.left=x+"px";d.style.top=(1049+i*16.63)+"px";
 page.appendChild(d);
}));
</script></body></html>
